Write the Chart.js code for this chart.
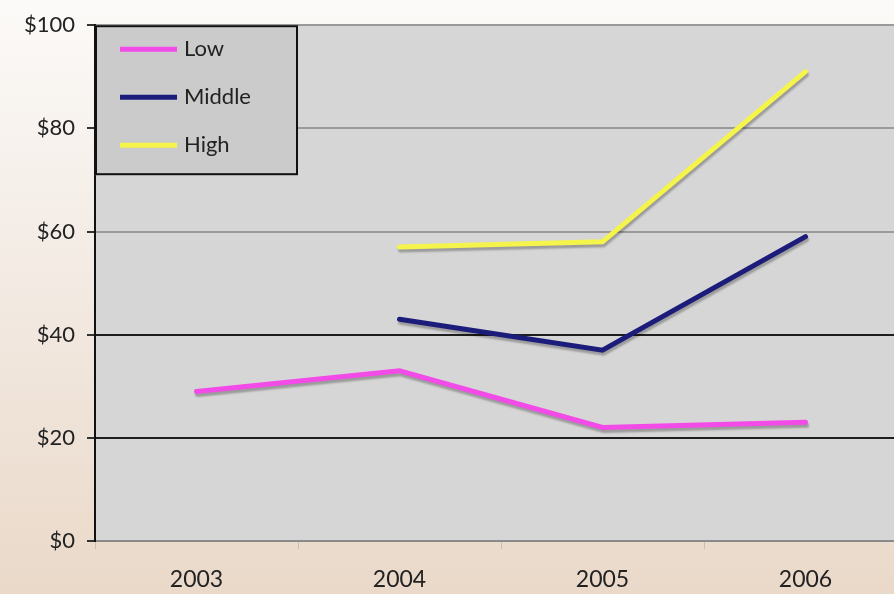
<!DOCTYPE html>
<html>
<head>
<meta charset="utf-8">
<script src="https://cdn.jsdelivr.net/npm/chart.js@4"></script>
<style>
  html, body { margin: 0; padding: 0; overflow: hidden; }
  body {
    width: 894px; height: 594px;
    background: linear-gradient(180deg, #fcfaf8 0%, #f3ebe4 45%, #ead9c9 100%);
  }
  #wrap { position: absolute; left: 0; top: 0; width: 910px; height: 594px; }
</style>
</head>
<body>
<div id="wrap"><canvas id="myChart"></canvas></div>
<script>
const years = ["2003", "2004", "2005", "2006"];
const lowValues = [29, 33, 22, 23];
const middleValues = [null, 43, 37, 59];
const highValues = [null, 57, 58, 91];
const yTicks = [0, 20, 40, 60, 80, 100];

const LINE_COLORS = {
	low: "#f24be8",
	middle: "#1c1c7a",
	high: "#f4f44a"
};

// line shadows like the original
const shadowPlugin = {
	id: "shadow",
	beforeDatasetDraw(chart) {
		const ctx = chart.ctx;
		ctx.save();
		ctx.shadowColor = "rgba(0,0,0,0.28)";
		ctx.shadowBlur = 2;
		ctx.shadowOffsetX = 1;
		ctx.shadowOffsetY = 3;
	},
	afterDatasetDraw(chart) {
		chart.ctx.restore();
	}
};

// plot background + legend box drawn inside the plot
const boxPlugin = {
	id: "box",
	beforeDraw(chart) {
		const a = chart.chartArea;
		const ctx = chart.ctx;
		ctx.save();
		ctx.fillStyle = "#d6d6d6";
		ctx.fillRect(a.left, a.top, a.right - a.left, a.bottom - a.top);
		ctx.restore();
	},
	afterDraw(chart) {
		const a = chart.chartArea;
		const ctx = chart.ctx;
		const x = a.left, y = a.top, w = 203, h = 150;
		ctx.save();
		ctx.fillStyle = "#cbcbcb";
		ctx.fillRect(x, y, w, h);
		ctx.lineWidth = 2;
		ctx.strokeStyle = "#111";
		ctx.strokeRect(x + 1, y + 1, w - 2, h - 2);
		ctx.font = "22px 'Lato', sans-serif";
		ctx.textBaseline = "middle";
		chart.data.datasets.forEach((ds, i) => {
			const ly = y + 24 + i * 48;
			ctx.strokeStyle = ds.borderColor;
			ctx.lineWidth = 5;
			ctx.beginPath();
			ctx.moveTo(x + 25, ly);
			ctx.lineTo(x + 82, ly);
			ctx.stroke();
			ctx.fillStyle = "#222";
			ctx.fillText(ds.label, x + 89, ly);
		});
		ctx.restore();
	}
};

const data = {
	labels: years,
	datasets: [
		{ label: "Low", data: lowValues, borderColor: LINE_COLORS.low },
		{ label: "Middle", data: middleValues, borderColor: LINE_COLORS.middle },
		{ label: "High", data: highValues, borderColor: LINE_COLORS.high }
	]
};

const config = {
	type: "line",
	data: data,
	plugins: [boxPlugin, shadowPlugin],
	options: {
		responsive: false,
		animation: false,
		layout: { padding: { top: 24, right: 3, bottom: 0, left: 0 } },
		elements: {
			line: { borderWidth: 5, tension: 0, borderCapStyle: "round" },
			point: { radius: 0, hoverRadius: 0 }
		},
		plugins: {
			legend: { display: false },
			tooltip: { enabled: false }
		},
		scales: {
			x: {
				offset: true,
				afterFit(axis) { axis.height = 53; },
				grid: {
					offset: true,
					drawOnChartArea: false,
					drawTicks: true,
					tickLength: 8,
					color: "#c8c0b8"
				},
				border: { display: true, color: "#8a8a8a", width: 2 },
				ticks: {
					color: "#222",
					font: { family: "Lato", size: 23 },
					padding: 17
				}
			},
			y: {
				min: 0,
				max: 100,
				afterBuildTicks(axis) {
					axis.ticks = yTicks.map(v => ({ value: v }));
				},
				afterFit(axis) { axis.width = 95; },
				grid: {
					color(c) {
						const v = c.tick.value;
						if (v === 20 || v === 40) return "#1e1e1e";
						return "#9a9a9a";
					},
					lineWidth: 2,
					tickLength: 8,
					tickColor: "#333"
				},
				border: { display: true, color: "#111", width: 2 },
				ticks: {
					color: "#222",
					font: { family: "Lato", size: 22 },
					padding: 12,
					callback: v => "$" + v
				}
			}
		}
	}
};

const canvas = document.getElementById("myChart");
canvas.width = 910;
canvas.height = 594;
const myChart = new Chart(canvas, config);
</script>
</body>
</html>
